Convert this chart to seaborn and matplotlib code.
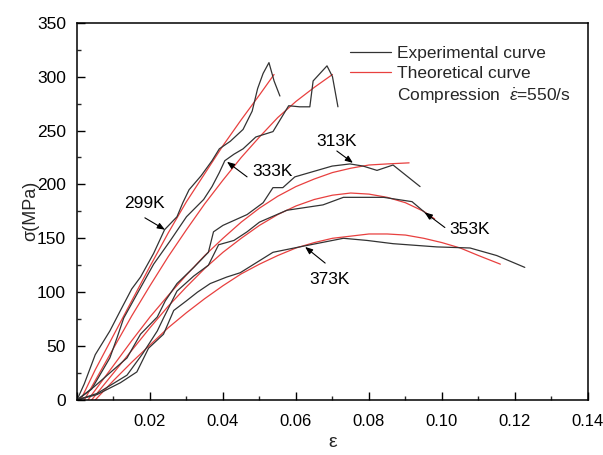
import numpy as np
import pandas as pd
import matplotlib
matplotlib.use("Agg")
import matplotlib.pyplot as plt
from matplotlib.lines import Line2D
from matplotlib.ticker import MultipleLocator
import seaborn as sns

# ---------------- data ----------------
exp_299_x = [0, 0.002, 0.005, 0.009, 0.0119, 0.015, 0.0174, 0.021, 0.024, 0.0274, 0.029, 0.0307,
             0.034, 0.037, 0.039, 0.042, 0.0455, 0.048, 0.0495, 0.051, 0.0526, 0.054, 0.0556]
exp_299_y = [0, 15, 42, 64, 83, 103, 114, 136, 158, 170, 183, 195,
             208, 222, 233, 240, 251, 268, 289, 303, 313, 296, 282]

exp_333_x = [0, 0.004, 0.009, 0.011, 0.0128, 0.0164, 0.021, 0.0256, 0.030, 0.0347, 0.037, 0.039,
             0.0405, 0.043, 0.0455, 0.049, 0.0537, 0.058, 0.061, 0.0638, 0.0647, 0.0685, 0.070, 0.0715]
exp_333_y = [0, 10, 39, 58, 76, 98, 126, 148, 170, 186, 198, 211,
             222, 228, 233, 244, 249, 273, 272, 272, 296, 310, 300, 272]

exp_313_x = [0, 0.0046, 0.0137, 0.0174, 0.022, 0.0242, 0.0274, 0.032, 0.036, 0.0374, 0.040, 0.0466,
             0.051, 0.0537, 0.0564, 0.0597, 0.0699, 0.0748, 0.0784, 0.0822, 0.0866, 0.094]
exp_313_y = [0, 12, 39, 61, 77, 92, 108, 123, 137, 156, 162, 172,
             183, 197, 197, 207, 217, 219, 217, 213, 218, 198]

exp_353_x = [0, 0.0055, 0.0137, 0.018, 0.022, 0.0237, 0.0274, 0.032, 0.036, 0.0388, 0.043, 0.0466,
             0.050, 0.0575, 0.0674, 0.073, 0.084, 0.0918, 0.0953, 0.097]
exp_353_y = [0, 6, 23, 43, 64, 76, 101, 115, 125, 144, 148, 156,
             165, 176, 181, 188, 188, 184, 174, 168]

exp_373_x = [0, 0.0055, 0.0119, 0.0164, 0.0196, 0.0237, 0.0265, 0.030, 0.033, 0.0365, 0.041, 0.0447,
             0.0537, 0.061, 0.073, 0.0795, 0.0866, 0.0986, 0.1077, 0.115, 0.1227]
exp_373_y = [0, 5, 16, 26, 48, 61, 83, 92, 100, 108, 114, 118,
             137, 142, 150, 148, 145, 142, 141, 134, 123]

th_299_x = [0.001, 0.005, 0.01, 0.015, 0.02, 0.025, 0.03, 0.035, 0.04, 0.045, 0.05, 0.054]
th_299_y = [0, 28, 60, 92, 124, 155, 184, 210, 236, 260, 283, 302]

th_333_x = [0.002, 0.005, 0.01, 0.015, 0.02, 0.025, 0.03, 0.035, 0.04, 0.045, 0.05, 0.055,
            0.06, 0.065, 0.07]
th_333_y = [0, 18, 48, 78, 106, 133, 158, 182, 204, 225, 244, 262, 277, 290, 302]

th_313_x = [0.003, 0.01, 0.015, 0.02, 0.025, 0.03, 0.035, 0.04, 0.045, 0.05, 0.055, 0.06,
            0.065, 0.07, 0.075, 0.08, 0.085, 0.091]
th_313_y = [0, 32, 55, 77, 97, 116, 134, 150, 165, 178, 189, 198, 205, 211, 215, 218, 219, 220]

th_353_x = [0.004, 0.01, 0.015, 0.02, 0.025, 0.03, 0.035, 0.04, 0.045, 0.05, 0.055, 0.06,
            0.065, 0.07, 0.075, 0.08, 0.085, 0.09, 0.095, 0.098]
th_353_y = [0, 25, 46, 67, 87, 105, 122, 137, 150, 162, 172, 180, 186, 190, 192, 191, 188, 183, 175, 168]

th_373_x = [0.005, 0.01, 0.015, 0.02, 0.025, 0.03, 0.035, 0.04, 0.045, 0.05, 0.055, 0.06,
            0.065, 0.07, 0.075, 0.08, 0.085, 0.09, 0.095, 0.1, 0.105, 0.11, 0.116]
th_373_y = [0, 18, 35, 51, 67, 81, 94, 106, 117, 126, 134, 141, 146, 150, 152, 154, 154, 153,
            150, 146, 141, 134, 126]

labels = ["299K", "333K", "313K", "353K", "373K"]
label_pos_x = [0.0186, 0.0537, 0.071, 0.1077, 0.0693]
label_pos_y = [182, 212, 240, 158, 112]
arrow_tail_x = [0.0186, 0.0466, 0.0712, 0.1008, 0.068]
arrow_tail_y = [169, 207, 231, 160, 127]
arrow_tip_x = [0.0241, 0.0411, 0.0756, 0.0953, 0.0625]
arrow_tip_y = [158, 221, 220, 174, 142]

x_ticks = [0, 0.02, 0.04, 0.06, 0.08, 0.10, 0.12, 0.14]
x_ticklabels = ["", "0.02", "0.04", "0.06", "0.08", "0.10", "0.12", "0.14"]
y_ticks = [0, 50, 100, 150, 200, 250, 300, 350]

# ---------------- style ----------------
sns.set_style("ticks")
plt.rcParams["font.family"] = ["Liberation Sans", "DejaVu Sans"]
plt.rcParams["mathtext.fontset"] = "custom"
plt.rcParams["mathtext.rm"] = "Liberation Sans"
plt.rcParams["mathtext.it"] = "Liberation Sans:italic"

BLACK = "#333333"
RED = "#e8403f"

fig = plt.figure(figsize=(6.03, 4.55), dpi=100)
ax = fig.add_axes([0.1277, 0.121, 0.975 - 0.1277, 0.950 - 0.121])

exp_sets = [(exp_299_x, exp_299_y), (exp_333_x, exp_333_y), (exp_313_x, exp_313_y),
            (exp_353_x, exp_353_y), (exp_373_x, exp_373_y)]
th_sets = [(th_299_x, th_299_y), (th_333_x, th_333_y), (th_313_x, th_313_y),
           (th_353_x, th_353_y), (th_373_x, th_373_y)]

for (xs, ys) in th_sets:
    df = pd.DataFrame({"strain": xs, "stress": ys})
    sns.lineplot(data=df, x="strain", y="stress", ax=ax, color=RED, lw=0.9,
                 sort=False, estimator=None)
for (xs, ys) in exp_sets:
    df = pd.DataFrame({"strain": xs, "stress": ys})
    sns.lineplot(data=df, x="strain", y="stress", ax=ax, color=BLACK, lw=0.9,
                 sort=False, estimator=None)

for lab, lx, ly, tx, ty, px, py in zip(labels, label_pos_x, label_pos_y,
                                       arrow_tail_x, arrow_tail_y, arrow_tip_x, arrow_tip_y):
    ax.annotate("", xy=(px, py), xytext=(tx, ty),
                arrowprops=dict(arrowstyle="-|>,head_length=0.45,head_width=0.18",
                                color="black", lw=0.8, shrinkA=0, shrinkB=0))
    ax.text(lx, ly, lab, ha="center", va="center", fontsize=12.5, color="black")

ax.set_xlim(0, 0.14)
ax.set_ylim(0, 350)
ax.set_xticks(x_ticks)
ax.set_xticklabels(x_ticklabels)
ax.set_yticks(y_ticks)
ax.xaxis.set_minor_locator(MultipleLocator(0.01))
ax.yaxis.set_minor_locator(MultipleLocator(25))
ax.tick_params(axis="both", which="major", direction="in", length=6, width=1.0,
               labelsize=12.5, colors="black", top=False, right=False)
ax.tick_params(axis="both", which="minor", direction="in", length=3, width=1.0,
               top=False, right=False)
ax.tick_params(axis="x", which="major", pad=10, labelsize=12)
ax.tick_params(axis="y", which="major", pad=8)
for s in ax.spines.values():
    s.set_visible(True)
    s.set_linewidth(1.1)
    s.set_color("black")

ax.set_xlabel("ε", fontsize=14, labelpad=4)
ax.set_ylabel("σ(MPa)", fontsize=13, labelpad=-2)

handles = [Line2D([], [], color=BLACK, lw=0.9),
           Line2D([], [], color=RED, lw=0.9),
           Line2D([], [], color="none", lw=0)]
leg_labels = ["Experimental curve", "Theoretical curve",
              r"Compression  $\dot{\varepsilon}$=550/s"]
ax.legend(handles, leg_labels, loc="upper left", bbox_to_anchor=(0.52, 0.957),
          frameon=False, fontsize=12.5, handlelength=2.4, handletextpad=0.3,
          labelspacing=0.3, borderaxespad=0)

fig.savefig("out.png", dpi=100)
